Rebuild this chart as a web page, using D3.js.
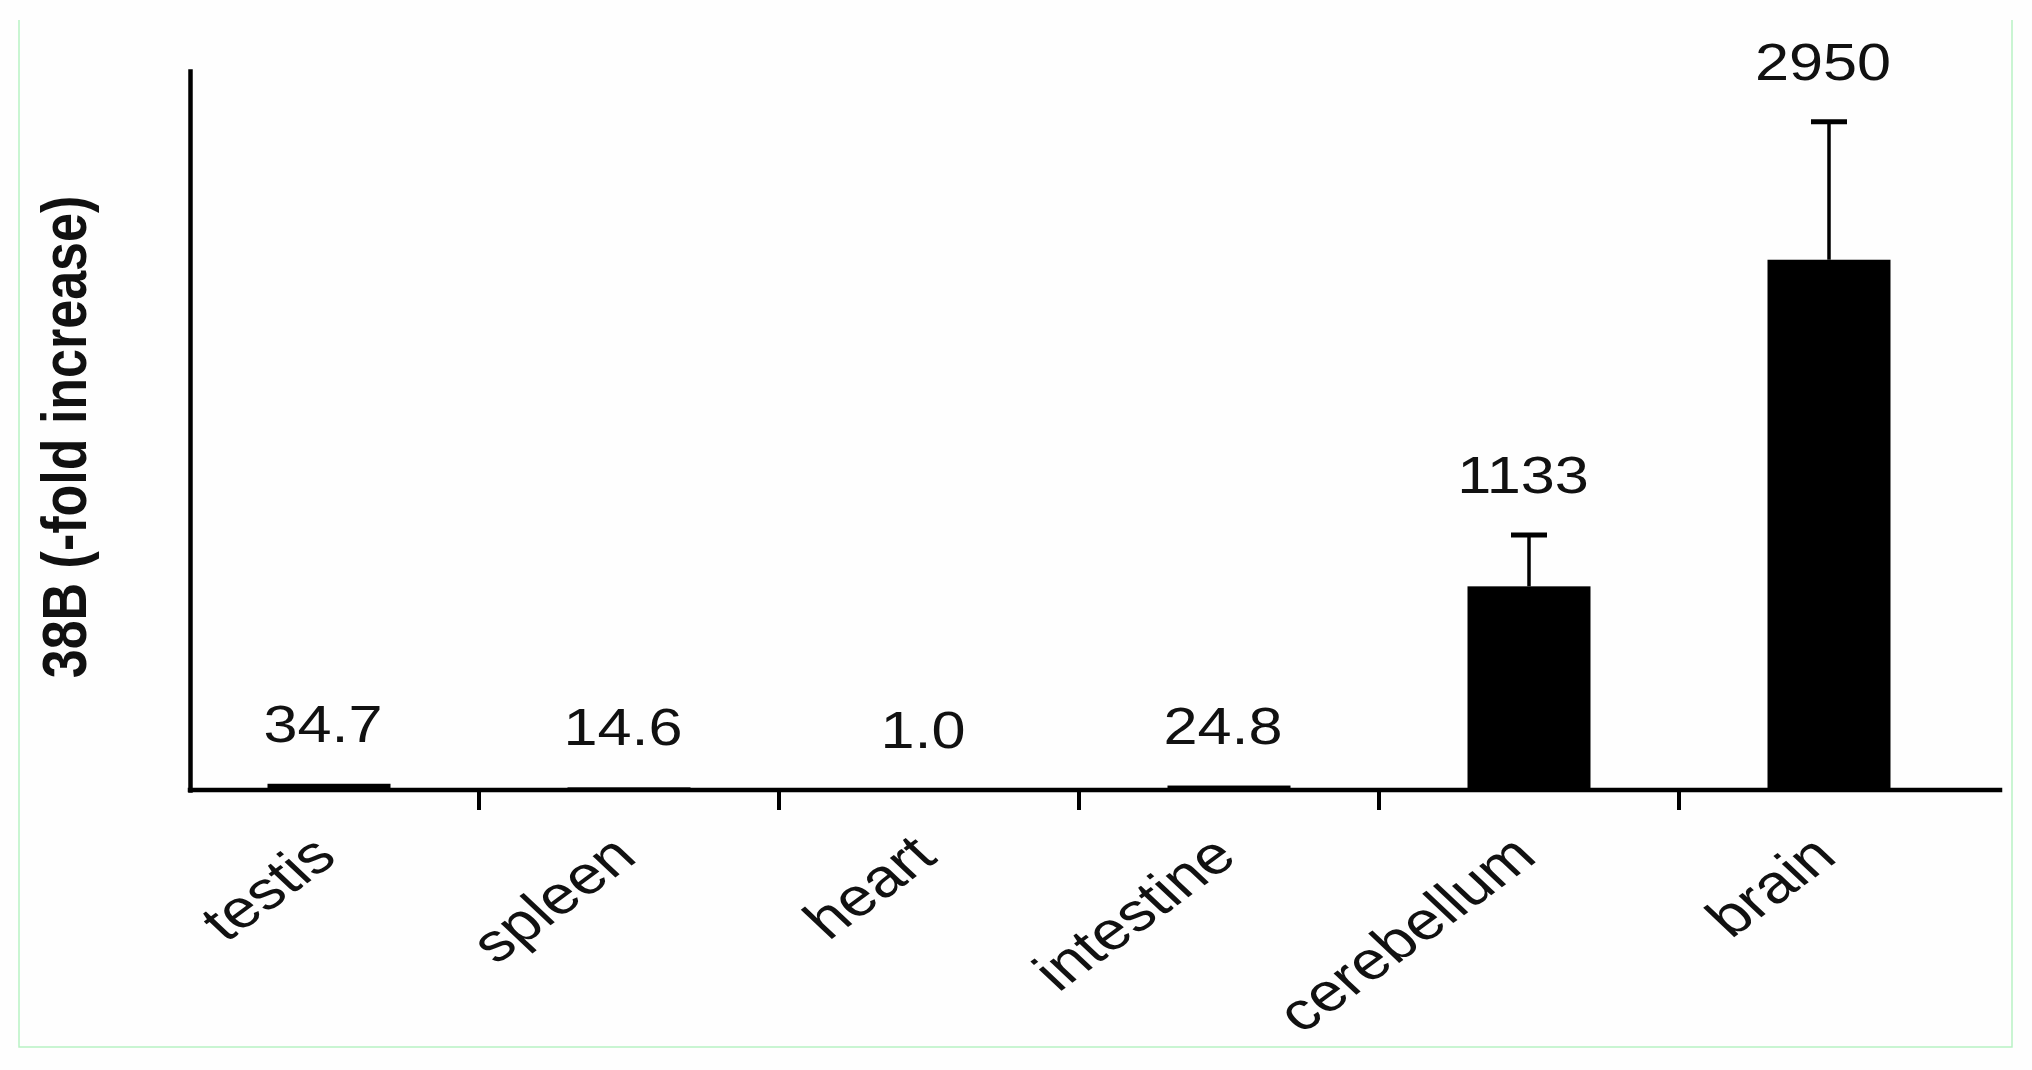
<!DOCTYPE html>
<html><head><meta charset="utf-8">
<script src="https://cdn.jsdelivr.net/npm/d3@7"></script>
<style>html,body{margin:0;padding:0;background:#fff;} svg{display:block;}</style>
</head><body><div id="chart"></div>
<script>
// ---- data ----
const categories = ["testis", "spleen", "heart", "intestine", "cerebellum", "brain"];
const values = [34.7, 14.6, 1.0, 24.8, 1133, 2950];
const errors = [0, 0, 0, 0, 286, 768];
const valueLabels = ["34.7", "14.6", "1.0", "24.8", "1133", "2950"];
const yDomain = [0, 4000];
const yTitle = "38B (-fold increase)";

// ---- layout ----
const W = 2032, H = 1070;
const axisX = 190, axisRight = 2000, baseY = 790, topY = 71;
const sx = 1.2;          // horizontal stretch of the original figure's text
const font = "'Liberation Sans', Arial, Helvetica, sans-serif";

const svg = d3.select("#chart").append("svg").attr("width", W).attr("height", H);
svg.append("rect").attr("width", W).attr("height", H).attr("fill", "#fefefe");
svg.append("path").attr("d", "M19,20V1047H2012V20")
  .attr("fill", "none").attr("stroke", "#b8f2c4").attr("stroke-width", 1.5);

const x = d3.scaleBand().domain(categories).range([179, 1979]).paddingInner(0.59).paddingOuter(0.295);
const y = d3.scaleLinear().domain(yDomain).range([baseY, topY]);

const data = categories.map((c, i) => ({c, v: values[i], e: errors[i], label: valueLabels[i]}));

// bars
svg.append("g").selectAll("rect").data(data).join("rect")
  .attr("x", d => x(d.c)).attr("y", d => y(d.v))
  .attr("width", x.bandwidth()).attr("height", d => baseY - y(d.v))
  .attr("fill", "#000");

// error bars
const eb = svg.append("g").attr("stroke", "#000");
data.filter(d => d.e > 0).forEach(d => {
  const cx = x(d.c) + x.bandwidth() / 2;
  eb.append("line").attr("x1", cx).attr("x2", cx).attr("y1", y(d.v)).attr("y2", y(d.v + d.e)).attr("stroke-width", 3.5);
  eb.append("line").attr("x1", cx - 18).attr("x2", cx + 18).attr("y1", y(d.v + d.e)).attr("y2", y(d.v + d.e)).attr("stroke-width", 5);
});

// y axis (no ticks)
const gy = svg.append("g").attr("transform", `translate(${axisX},0)`)
  .call(d3.axisLeft(y).tickValues([]).tickSizeOuter(0));
gy.select(".domain").attr("stroke", "#000").attr("stroke-width", 4.5).attr("stroke-linecap", "square");

// x axis line
svg.append("line").attr("x1", axisX).attr("x2", axisRight).attr("y1", baseY).attr("y2", baseY)
  .attr("stroke", "#000").attr("stroke-width", 4.5).attr("stroke-linecap", "square");

// x ticks between categories
const between = categories.slice(0, -1).map(c => x(c) + x.bandwidth() + x.step() * x.paddingInner() / 2);
svg.append("g").selectAll("line").data(between).join("line")
  .attr("x1", d => d).attr("x2", d => d).attr("y1", baseY).attr("y2", baseY + 20)
  .attr("stroke", "#000").attr("stroke-width", 4);

// value labels
svg.append("g").selectAll("g").data(data).join("g")
  .attr("transform", d => `translate(${x(d.c) + x.bandwidth() / 2 - 6},${y(d.v + d.e) - 42}) scale(${sx},1)`)
  .append("text").attr("text-anchor", "middle")
  .attr("font-family", font).attr("font-size", 51).attr("fill", "#111")
  .text(d => d.label);

// category labels
svg.append("g").selectAll("g").data(data).join("g")
  .attr("transform", d => `translate(${x(d.c) + x.bandwidth() / 2 + 10},860) scale(${sx},1) rotate(-41.5)`)
  .append("text").attr("text-anchor", "end")
  .attr("font-family", font).attr("font-size", 54).attr("fill", "#111")
  .text(d => d.c);

// y title
svg.append("g").attr("transform", `translate(64,437) scale(${sx},1) rotate(-90)`)
  .append("text").attr("text-anchor", "middle").attr("dy", "0.35em")
  .attr("font-family", font).attr("font-weight", "bold").attr("font-size", 52).attr("fill", "#111")
  .text(yTitle);
</script>
</body></html>
